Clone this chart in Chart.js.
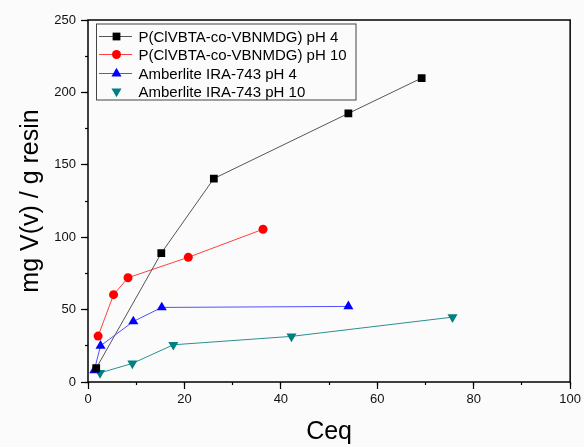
<!DOCTYPE html>
<html>
<head>
<meta charset="utf-8">
<script src="https://cdn.jsdelivr.net/npm/chart.js"></script>
<style>
  body { margin: 0; background: #fbfbfb; }
  canvas { display: block; }
</style>
</head>
<body>
<canvas id="chart" width="584" height="447"></canvas>
<script>
// values (Ceq, mg V / g resin)
const seriesNames = [
    'P(ClVBTA-co-VBNMDG) pH 4',
    'P(ClVBTA-co-VBNMDG) pH 10',
    'Amberlite IRA-743 pH 4',
    'Amberlite IRA-743 pH 10'
];
const ceqPolyPh4 = [1.7, 15.2, 26.1, 54.0, 69.2];
const qPolyPh4 = [9.5, 89, 140.5, 185.5, 209.9];
const ceqPolyPh10 = [2.1, 5.3, 8.3, 20.8, 36.3];
const qPolyPh10 = [31.7, 60.3, 72, 86.1, 105.5];
const ceqAmbPh4 = [1.3, 2.6, 9.4, 15.3, 54.0];
const qAmbPh4 = [8, 25, 41.8, 51.5, 52.2];
const ceqAmbPh10 = [2.5, 9.2, 17.7, 42.2, 75.6];
const qAmbPh10 = [6.3, 12.8, 25.7, 31.5, 44.8];

const xTicks = [0, 20, 40, 60, 80, 100];
const yTicks = [0, 50, 100, 150, 200, 250];

const FONT = "'Liberation Sans', Arial, sans-serif";

function toPoints(xs, ys) {
    return xs.map((x, i) => ({ x: x, y: ys[i] }));
}

// axis box plus a framed legend drawn Origin-style (line + marker)
const framePlugin = {
    id: 'frame',
    afterDatasetsDraw(chart) {
        const ctx = chart.ctx;
        const a = chart.chartArea;
        ctx.save();
        ctx.strokeStyle = '#000';
        ctx.lineWidth = 1.5;
        ctx.strokeRect(a.left, a.top, a.right - a.left, a.bottom - a.top);

        const left = a.left + 8.5, top = a.top + 4;
        ctx.lineWidth = 1;
        ctx.strokeStyle = '#444';
        ctx.strokeRect(left, top, 259.5, 76);

        ctx.font = '15px ' + FONT;
        ctx.textBaseline = 'middle';
        ctx.textAlign = 'left';
        chart.data.datasets.forEach((ds, i) => {
            const cy = Math.round(top + 11.5 + i * 18.6) + 0.5;
            if (ds.legendLine !== false) {
                ctx.strokeStyle = ds.borderColor;
                ctx.lineWidth = 1;
                ctx.beginPath();
                ctx.moveTo(left + 2.5, cy);
                ctx.lineTo(left + 35.5, cy);
                ctx.stroke();
            }
            ctx.fillStyle = ds.pointBackgroundColor;
            ctx.strokeStyle = ds.pointBackgroundColor;
            Chart.helpers.drawPoint(ctx, {
                pointStyle: ds.pointStyle,
                radius: ds.pointRadius,
                rotation: ds.pointRotation || 0,
                borderWidth: 0
            }, left + 20, cy);
            ctx.fillStyle = '#000';
            ctx.fillText(ds.label, left + 42, cy + 1);
        });
        ctx.restore();
    }
};

const datasets = [
    {
        label: seriesNames[0],
        data: toPoints(ceqPolyPh4, qPolyPh4),
        borderColor: '#555555',
        pointBackgroundColor: '#000000',
        pointBorderColor: '#000000',
        pointStyle: 'rect',
        pointRadius: 5.5
    },
    {
        label: seriesNames[1],
        data: toPoints(ceqPolyPh10, qPolyPh10),
        borderColor: '#ff4040',
        pointBackgroundColor: '#ff0000',
        pointBorderColor: '#ff0000',
        pointStyle: 'circle',
        pointRadius: 4.5
    },
    {
        label: seriesNames[2],
        data: toPoints(ceqAmbPh4, qAmbPh4),
        borderColor: '#5050ff',
        pointBackgroundColor: '#0000ff',
        pointBorderColor: '#0000ff',
        pointStyle: 'triangle',
        pointRadius: 5.8
    },
    {
        label: seriesNames[3],
        data: toPoints(ceqAmbPh10, qAmbPh10),
        borderColor: '#2a8f8f',
        pointBackgroundColor: '#008080',
        pointBorderColor: '#008080',
        pointStyle: 'triangle',
        pointRotation: 180,
        pointRadius: 5.8,
        legendLine: false
    }
];

datasets.forEach(ds => {
    ds.showLine = true;
    ds.borderWidth = 1;
    ds.pointBorderWidth = 0;
    ds.fill = false;
    ds.tension = 0;
});

new Chart(document.getElementById('chart'), {
    type: 'scatter',
    data: { datasets: datasets },
    options: {
        responsive: false,
        animation: false,
        layout: { padding: { top: 20, right: 11, left: 0, bottom: 0 } },
        plugins: {
            legend: { display: false },
            tooltip: { enabled: false }
        },
        scales: {
            x: {
                type: 'linear',
                position: 'bottom',
                weight: 1,
                min: xTicks[0],
                max: xTicks[xTicks.length - 1],
                afterBuildTicks: s => { s.ticks = xTicks.map(v => ({ value: v })); },
                afterFit: s => { s.height = 65; },
                ticks: { font: { size: 13, family: FONT }, color: '#111', padding: 3, maxRotation: 0 },
                grid: { drawOnChartArea: false, tickLength: 7, color: '#000', tickWidth: 1.2 },
                border: { display: false },
                title: {
                    display: true,
                    text: 'Ceq',
                    font: { size: 25, family: FONT },
                    color: '#000',
                    padding: { top: 0, bottom: 0 }
                }
            },
            xMinor: {
                type: 'linear',
                position: 'bottom',
                weight: 0,
                min: xTicks[0],
                max: xTicks[xTicks.length - 1],
                ticks: { display: false, stepSize: 10 },
                grid: { drawOnChartArea: false, tickLength: 3, color: '#000', tickWidth: 1.2 },
                border: { display: false },
                afterFit: s => { s.height = 0; }
            },
            y: {
                type: 'linear',
                position: 'left',
                weight: 1,
                min: yTicks[0],
                max: yTicks[yTicks.length - 1],
                afterBuildTicks: s => { s.ticks = yTicks.map(v => ({ value: v })); },
                afterFit: s => { s.width = 88; },
                ticks: { font: { size: 13, family: FONT }, color: '#111', padding: 5 },
                grid: { drawOnChartArea: false, tickLength: 7, color: '#000', tickWidth: 1.2 },
                border: { display: false },
                title: {
                    display: true,
                    text: 'mg V(v) / g resin',
                    font: { size: 25, family: FONT },
                    color: '#000',
                    padding: { top: 16, bottom: 0 }
                }
            },
            yMinor: {
                type: 'linear',
                position: 'left',
                weight: 0,
                min: yTicks[0],
                max: yTicks[yTicks.length - 1],
                ticks: { display: false, stepSize: 25 },
                grid: { drawOnChartArea: false, tickLength: 3, color: '#000', tickWidth: 1.2 },
                border: { display: false },
                afterFit: s => { s.width = 0; }
            }
        }
    },
    plugins: [framePlugin]
});
</script>
</body>
</html>
